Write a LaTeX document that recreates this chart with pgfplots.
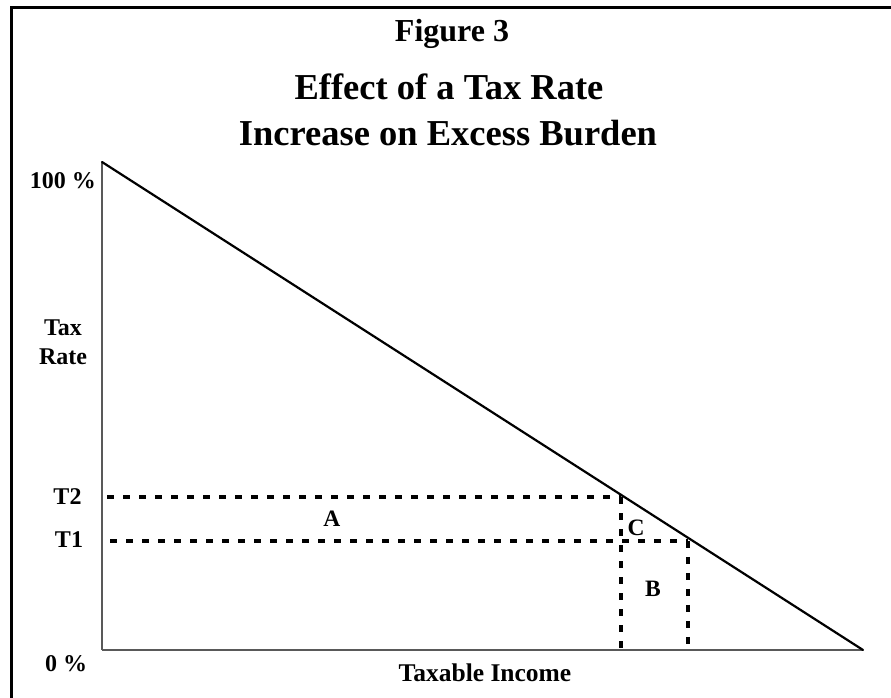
\documentclass[border=0pt]{standalone}
\usepackage{pgfplots}
\pgfplotsset{compat=1.18}
\usepackage{fontspec}
\setmainfont{Liberation Serif}
\begin{document}
\begin{tikzpicture}[x=1pt,y=1pt]
\useasboundingbox (0,0) rectangle (891,698);
% frame
\draw[line width=2.6pt, line join=miter] (11.3,-2) -- (11.3,690.2) -- (893,690.2);
% titles
\node[anchor=base, inner sep=0] at (452,656) {\fontsize{32}{36}\selectfont\bfseries Figure 3};
\node[anchor=base, inner sep=0] at (449,598) {\fontsize{36.5}{42}\selectfont\bfseries Effect of a Tax Rate};
\node[anchor=base, inner sep=0] at (448,552) {\fontsize{36.5}{42}\selectfont\bfseries Increase on Excess Burden};
% left labels
\node[anchor=base east, inner sep=0] at (96,509) {\fontsize{24}{29}\selectfont\bfseries 100 \%};
\node[anchor=base, inner sep=0] at (63,362) {\fontsize{24}{29}\selectfont\bfseries Tax};
\node[anchor=base, inner sep=0] at (63,333) {\fontsize{24}{29}\selectfont\bfseries Rate};
\node[anchor=base, inner sep=0] at (67.5,193) {\fontsize{24}{29}\selectfont\bfseries T2};
\node[anchor=base, inner sep=0] at (69,150) {\fontsize{24}{29}\selectfont\bfseries T1};
\node[anchor=base, inner sep=0] at (66,26) {\fontsize{24}{29}\selectfont\bfseries 0 \%};
\node[anchor=base, inner sep=0] at (485,16) {\fontsize{25.5}{29}\selectfont\bfseries Taxable Income};
\begin{axis}[
  at={(102pt,48pt)}, anchor=origin,
  scale only axis, width=761pt, height=488pt,
  xmin=0, xmax=1, ymin=0, ymax=100,
  axis lines=left,
  axis line style={-, line width=1.1pt, color=black!65},
  xtick=\empty, ytick=\empty,
  clip=false,
]
\addplot[black, line width=2.2pt, line cap=round] coordinates {(0,100) (1,0)};
\addplot[black, line width=3.2pt, dash pattern=on 7pt off 9pt] coordinates {(0.007,31.35) (0.682,31.35)};
\addplot[black, line width=3.2pt, dash pattern=on 7pt off 9pt] coordinates {(0.011,22.34) (0.770,22.34)};
\addplot[black, line width=3.2pt, dash pattern=on 7pt off 9pt] coordinates {(0.682,31.35) (0.682,0)};
\addplot[black, line width=3.2pt, dash pattern=on 7pt off 9pt] coordinates {(0.770,22.34) (0.770,0)};
\node[anchor=base, inner sep=0] at (axis cs:0.302,25.4) {\fontsize{23.5}{26}\selectfont\bfseries A};
\node[anchor=base, inner sep=0] at (axis cs:0.702,23.4) {\fontsize{23.5}{26}\selectfont\bfseries C};
\node[anchor=base, inner sep=0] at (axis cs:0.724,10.9) {\fontsize{23.5}{26}\selectfont\bfseries B};
\end{axis}
\end{tikzpicture}
\end{document}
